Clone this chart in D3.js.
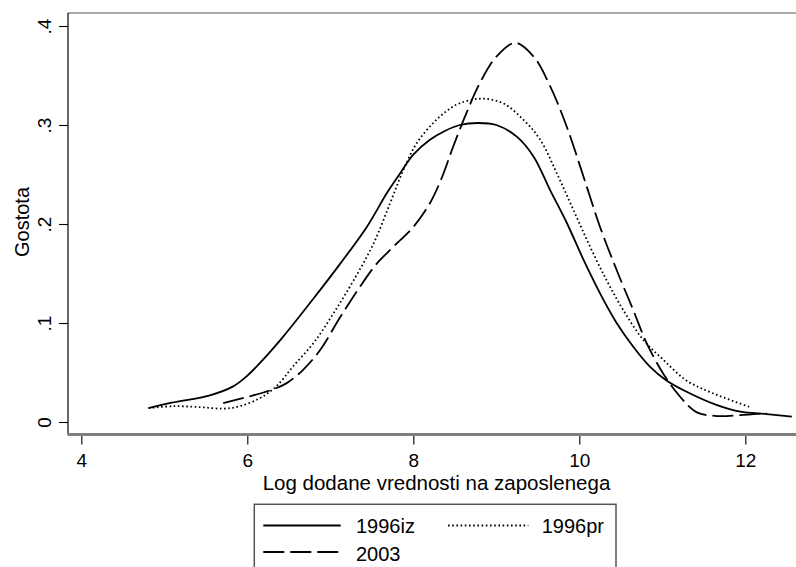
<!DOCTYPE html>
<html>
<head>
<meta charset="utf-8">
<script src="https://cdn.jsdelivr.net/npm/d3@7"></script>
<style>
  body { margin: 0; background: #fff; }
  svg { display: block; font-family: "Liberation Sans", Arial, sans-serif; }
</style>
</head>
<body>
<div id="chart"></div>
<script>
// density estimates: [log value added, density]
const series1996iz = [
  [4.81, 0.014], [5.09, 0.0195], [5.55, 0.027], [5.83, 0.036], [5.99, 0.046],
  [6.19, 0.063], [6.43, 0.086], [6.80, 0.125], [7.12, 0.160], [7.44, 0.197],
  [7.68, 0.231], [7.84, 0.251], [8.00, 0.270], [8.20, 0.285], [8.38, 0.294],
  [8.56, 0.300], [8.78, 0.302], [9.00, 0.300], [9.25, 0.288], [9.45, 0.268],
  [9.65, 0.234], [9.85, 0.201], [10.05, 0.164], [10.25, 0.130], [10.45, 0.100],
  [10.65, 0.076], [10.85, 0.056], [11.05, 0.042], [11.33, 0.029], [11.66, 0.017],
  [11.94, 0.0104], [12.26, 0.008], [12.56, 0.0054]
];
const series1996pr = [
  [4.81, 0.014], [5.11, 0.016], [5.43, 0.015], [5.71, 0.0135], [5.91, 0.016],
  [6.15, 0.024], [6.35, 0.036], [6.55, 0.056], [6.80, 0.080], [7.04, 0.110],
  [7.28, 0.143], [7.52, 0.180], [7.72, 0.221], [7.88, 0.2545], [8.04, 0.2815],
  [8.24, 0.302], [8.40, 0.314], [8.56, 0.322], [8.82, 0.3266], [9.08, 0.322],
  [9.33, 0.305], [9.53, 0.285], [9.73, 0.251], [9.93, 0.214], [10.13, 0.177],
  [10.33, 0.143], [10.53, 0.113], [10.77, 0.083], [11.01, 0.063], [11.29, 0.042],
  [11.61, 0.029], [12.06, 0.015]
];
const series2003 = [
  [5.71, 0.019], [6.03, 0.026], [6.31, 0.033], [6.47, 0.039], [6.67, 0.0525],
  [6.88, 0.073], [7.12, 0.106], [7.36, 0.137], [7.56, 0.160], [7.76, 0.177],
  [8.00, 0.197], [8.20, 0.221], [8.34, 0.246], [8.48, 0.278], [8.64, 0.312],
  [8.80, 0.342], [9.00, 0.369], [9.23, 0.383], [9.45, 0.369], [9.65, 0.339],
  [9.85, 0.298], [10.05, 0.248], [10.25, 0.197], [10.45, 0.1535], [10.65, 0.113],
  [10.81, 0.080], [11.01, 0.049], [11.21, 0.026], [11.41, 0.010], [11.66, 0.006],
  [11.94, 0.007], [12.26, 0.009]
];

const xTicks = [4, 6, 8, 10, 12];
const yTicks = [0, 0.1, 0.2, 0.3, 0.4];
const yTickLabels = ["0", ".1", ".2", ".3", ".4"];
const legendLabels = ["1996iz", "1996pr", "2003"];

const xTitle = "Log dodane vrednosti na zaposlenega";
const yTitle = "Gostota";

const width = 796;
const height = 567;
const plot = { left: 68, right: 796, top: 13, bottom: 434.5 };

const svg = d3.select("#chart")
  .append("svg")
  .attr("width", width)
  .attr("height", height);

// scales
const x = d3.scaleLinear().domain([4, 12]).range([81.3, 745.3]);
const y = d3.scaleLinear().domain([0, 0.4]).range([422, 26]);

// frame: grey top rule, black left axis, thick grey bottom axis
svg.append("line")
  .attr("x1", plot.left).attr("x2", plot.right)
  .attr("y1", plot.top).attr("y2", plot.top)
  .attr("stroke", "#8c8c8c").attr("stroke-width", 1.3);

svg.append("line")
  .attr("x1", plot.left).attr("x2", plot.left)
  .attr("y1", plot.top).attr("y2", plot.bottom)
  .attr("stroke", "#000").attr("stroke-width", 1.2);

svg.append("line")
  .attr("x1", plot.left - 0.5).attr("x2", plot.right)
  .attr("y1", plot.bottom).attr("y2", plot.bottom)
  .attr("stroke", "#808080").attr("stroke-width", 3);

// y axis
const yAxis = svg.append("g")
  .attr("transform", `translate(${plot.left}, 0)`)
  .call(d3.axisLeft(y)
    .tickValues(yTicks)
    .tickSize(9)
    .tickFormat((d, i) => yTickLabels[i]));
yAxis.select(".domain").remove();
yAxis.selectAll(".tick line").attr("stroke", "#000").attr("stroke-width", 1.1);
yAxis.selectAll(".tick text")
  .attr("x", 0)
  .attr("dy", 0)
  .attr("transform", "translate(-17, 0) rotate(-90)")
  .attr("text-anchor", "middle")
  .style("font-size", "19px")
  .style("font-family", "Liberation Sans, Arial, sans-serif")
  .attr("fill", "#000");

// x axis
const xAxis = svg.append("g")
  .attr("transform", `translate(0, ${plot.bottom + 1.5})`)
  .call(d3.axisBottom(x)
    .tickValues(xTicks)
    .tickSize(8.5)
    .tickPadding(9)
    .tickFormat(d3.format("d")));
xAxis.select(".domain").remove();
xAxis.selectAll(".tick line").attr("stroke", "#000").attr("stroke-width", 1.1);
xAxis.selectAll(".tick text")
  .style("font-size", "19px")
  .style("font-family", "Liberation Sans, Arial, sans-serif")
  .attr("fill", "#000");

// axis titles
svg.append("text")
  .attr("x", 436.5)
  .attr("y", 490)
  .attr("text-anchor", "middle")
  .style("font-size", "20.5px")
  .text(xTitle);

svg.append("text")
  .attr("transform", "translate(29, 222) rotate(-90)")
  .attr("text-anchor", "middle")
  .style("font-size", "20px")
  .text(yTitle);

// density curves
const line = d3.line()
  .x(d => x(d[0]))
  .y(d => y(d[1]))
  .curve(d3.curveCatmullRom.alpha(0.5));

const styles = [
  { data: series1996iz, dash: null },
  { data: series1996pr, dash: "1.6,2.6" },
  { data: series2003, dash: "21,6" }
];

svg.selectAll("path.curve")
  .data(styles)
  .join("path")
  .attr("class", "curve")
  .attr("d", d => line(d.data))
  .attr("fill", "none")
  .attr("stroke", "#000")
  .attr("stroke-width", 1.8)
  .attr("stroke-dasharray", d => d.dash);

// legend
const legend = svg.append("g");
legend.append("rect")
  .attr("x", 254.3)
  .attr("y", 504.3)
  .attr("width", 361.7)
  .attr("height", 90)
  .attr("fill", "#fff")
  .attr("stroke", "#555")
  .attr("stroke-width", 1.5);

const legendItems = [
  { label: legendLabels[0], dash: null, x0: 263.3, x1: 340.7, tx: 356, ly: 525.5, ty: 533 },
  { label: legendLabels[1], dash: "1.6,2.6", x0: 448, x1: 528.3, tx: 541.7, ly: 525.5, ty: 533 },
  { label: legendLabels[2], dash: "21,6", x0: 263.3, x1: 340.7, tx: 356, ly: 552, ty: 561 }
];

legendItems.forEach(item => {
  legend.append("line")
    .attr("x1", item.x0).attr("x2", item.x1)
    .attr("y1", item.ly).attr("y2", item.ly)
    .attr("stroke", "#000")
    .attr("stroke-width", 1.8)
    .attr("stroke-dasharray", item.dash);
  legend.append("text")
    .attr("x", item.tx)
    .attr("y", item.ty)
    .style("font-size", "20px")
    .text(item.label);
});
</script>
</body>
</html>
